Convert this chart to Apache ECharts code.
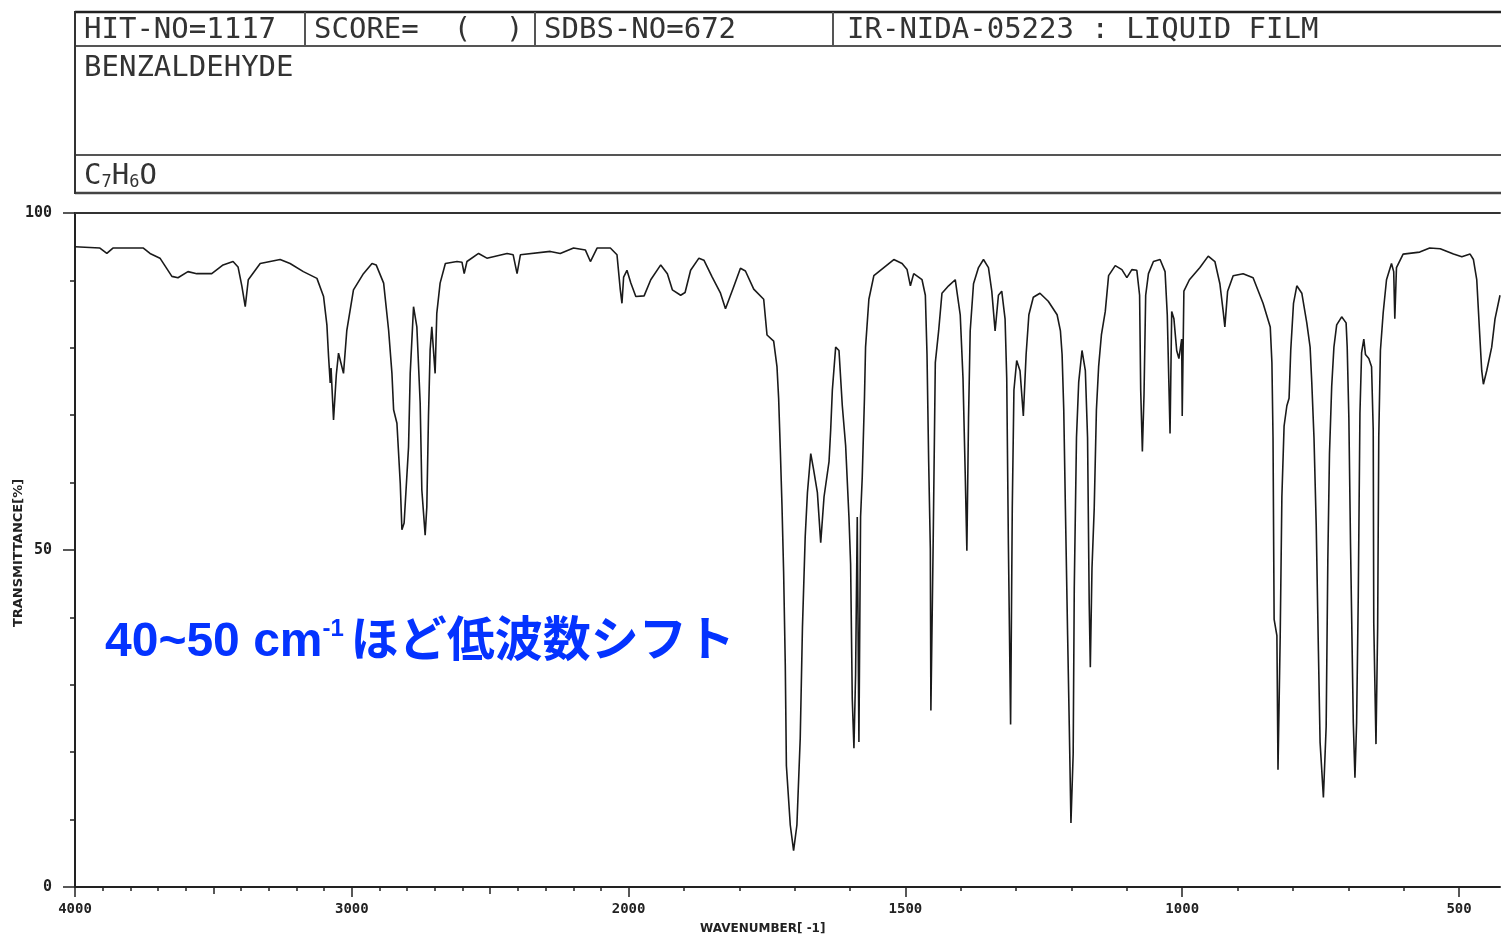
<!DOCTYPE html>
<html><head><meta charset="utf-8">
<script src="https://cdn.jsdelivr.net/npm/echarts@6/dist/echarts.min.js"></script>
<style>html,body{margin:0;padding:0;background:#fff}#c{width:1501px;height:937px}</style>
</head><body><div id="c"></div>
<script>
// ---- data ----
const wavenumber = [
4000,3910,3885,3863,3753,3729,3693,3650,3628,3592,3560,3506,3465,3429,3411,3397,3385,3374,3331,3295,
3259,3223,3175,3126,3102,3090,3084,3078,3075,3066,3056,3048,3030,3018,2994,2958,2927,2912,2885,2867,
2855,2849,2837,2825,2819,2811,2795,2789,2777,2765,2753,2747,2735,2729,2723,2717,2711,2699,2693,2681,
2662,2620,2602,2594,2584,2542,2512,2439,2417,2403,2391,2283,2247,2199,2156,2138,2114,2066,2042,2030,
2024,2018,2006,
1996,1987,1972,1960,1942,1930,1921,1906,1898,1888,1873,1864,1849,1834,1825,1810,1798,1789,1774,1756,
1750,1738,1732,1729,1726,1723,1720,1717,1715,1708,1702,1696,1690,1686,1681,1677,1671,1666,1659,1653,
1647,1638,1635,1632,1626,1620,1614,1608,1602,1599,1596,1593,1590,1587,1584,1581,1578,1574,1572,1566,
1557,1539,1521,1506,1497,1491,1485,1470,1464,1461,1458,1455,1454,1450,1446,1440,1434,1422,1410,1401,
1396,1392,1389,1386,1383,1377,1368,1359,1350,1344,1338,1332,1326,1320,1317,1314,1310,1307,1304,1299,
1293,1287,1282,1277,1269,1257,1242,1226,1220,1217,1214,1211,1207,1204,1201,1197,1195,1191,1187,1181,
1175,1171,1168,1166,1163,1159,1155,1151,1146,1139,1133,1121,1109,1100,1091,1082,1077,1075,1072,1069,
1066,1061,1052,1040,1031,1027,1024,1022,1019,1015,1010,1006,1001,1000,997,987,968,953,941,932,
926,923,918,908,890,872,854,841,838,836,834,829,827,823,820,816,811,807,804,799,
793,784,775,769,766,762,758,754,751,745,740,737,734,730,726,721,712,704,702,699,
696,691,688,685,682,679,676,672,669,663,658,655,654,650,647,645,642,637,631,622,
618,616,613,601,571,553,534,510,495,480,474,468,463,459,456,450,441,435,426
];
const transmittance = [
95.0,94.8,94.0,94.8,94.8,94.0,93.3,90.6,90.4,91.3,91.0,91.0,92.3,92.8,92.0,89.1,86.1,90.1,92.5,92.8,
93.1,92.5,91.3,90.3,87.6,83.4,78.7,74.8,77.0,69.3,76.0,79.2,76.2,82.6,88.6,91.0,92.5,92.3,89.6,82.6,
76.2,70.8,68.8,59.9,53.0,54.0,65.3,76.2,86.1,83.1,71.8,58.9,52.2,56.4,69.8,79.7,83.1,76.2,85.1,89.6,
92.5,92.8,92.7,91.0,92.8,94.0,93.3,94.0,93.8,91.0,93.8,94.3,94.0,94.8,94.5,92.8,94.8,94.8,93.8,88.6,
86.6,90.5,91.5,
89.6,87.6,87.7,90.1,92.3,91.0,88.6,87.8,88.2,91.5,93.3,93.0,90.5,88.1,85.8,89.1,91.8,91.4,88.7,87.2,
81.9,81.0,77.2,72.5,64.9,56.7,46.7,32.9,18.0,9.2,5.4,9.2,22.1,38.5,52.0,58.5,64.3,62.0,58.5,51.1,
57.9,63.1,67.8,73.7,80.1,79.6,71.4,65.5,54.9,47.9,27.9,20.6,31.5,54.9,21.5,54.9,60.8,72.5,80.1,87.2,
90.7,91.9,93.1,92.5,91.6,89.2,91.0,90.1,87.8,79.0,63.1,50.2,26.2,50.3,77.8,82.5,88.1,89.2,90.1,84.9,
75.5,61.4,49.9,69.6,82.5,89.5,91.9,93.1,91.9,88.4,82.5,87.8,88.4,84.3,75.5,50.8,24.1,56.1,73.7,78.1,
76.6,69.9,79.0,84.9,87.5,88.1,86.9,84.9,82.5,79.0,70.8,56.1,37.3,23.8,9.5,19.7,44.4,66.7,74.9,79.6,
76.6,66.7,42.0,32.6,47.3,56.1,70.8,77.2,81.9,85.4,90.7,92.2,91.6,90.4,91.6,91.5,87.8,73.7,64.6,73.1,
87.8,91.0,92.8,93.1,91.3,84.9,74.3,67.3,85.4,84.3,79.6,78.4,81.3,69.9,88.4,90.1,91.9,93.6,92.8,89.5,
85.4,83.1,88.4,90.7,91.0,90.4,86.6,83.1,77.8,66.7,39.7,37.3,17.4,37.3,57.9,68.4,71.4,72.5,79.6,86.6,
89.2,88.1,83.7,80.1,74.9,66.7,53.8,35.0,21.5,13.3,23.8,48.5,64.3,74.3,80.1,83.4,84.6,83.7,80.1,69.6,
50.8,24.4,16.2,24.4,43.2,70.2,79.3,81.3,79.0,78.4,77.2,67.8,39.1,21.2,38.5,66.7,79.6,85.2,90.1,92.5,
91.3,84.3,91.9,93.9,94.2,94.8,94.7,93.9,93.5,93.9,93.1,90.1,82.5,76.6,74.6,76.6,80.1,84.3,87.8
];
const xMajorTicks = [4000, 3000, 2000, 1500, 1000, 500];
const xMediumTicks = [3500, 2500];
const yMajorTicks = [0, 50, 100];
const xRightEnd = 426;

const headerTexts = {
  hit: 'HIT-NO=1117',
  score: 'SCORE=  (  )',
  sdbs: 'SDBS-NO=672',
  ir: 'IR-NIDA-05223 : LIQUID FILM',
  name: 'BENZALDEHYDE'
};

// ---- axis scale: half scale above 2000 cm-1 ----
function toU(w) { return w >= 2000 ? (4000 - w) / 2 : 3000 - w; }
function fromU(u) { return u <= 1000 ? Math.round(4000 - 2 * u) : Math.round(3000 - u); }

const minorTicks = [];
for (let w = 3900; w >= 500; w -= 100) {
  if (xMajorTicks.indexOf(w) < 0 && xMediumTicks.indexOf(w) < 0) minorTicks.push(w);
}
const uMax = toU(xRightEnd);
const seriesData = wavenumber.map((w, i) => [toU(w), transmittance[i]]);

const dark = '#222';
const tickFont = { color: dark, fontSize: 14, fontWeight: 'bold', fontFamily: 'DejaVu Sans Mono' };
const mono = '"DejaVu Sans Mono", monospace';

const chart = echarts.init(document.getElementById('c'));
chart.setOption({
  animation: false,
  backgroundColor: '#fff',
  grid: { left: 75, right: 1, top: 213, bottom: 50, containLabel: false, outerBoundsMode: 'none' },
  xAxis: [
    { type: 'value', min: 0, max: uMax, position: 'bottom',
      axisLine: { show: true, lineStyle: { color: dark, width: 2 } },
      axisTick: { show: true, customValues: xMajorTicks.map(toU), length: 10, lineStyle: { color: dark, width: 1.5 } },
      axisLabel: Object.assign({ customValues: xMajorTicks.map(toU), formatter: v => String(fromU(v)), margin: 15 }, tickFont),
      splitLine: { show: false } },
    { type: 'value', min: 0, max: uMax, position: 'bottom',
      axisLine: { show: false },
      axisTick: { show: true, customValues: minorTicks.map(toU), length: 4, lineStyle: { color: dark, width: 1.5 } },
      axisLabel: { show: false }, splitLine: { show: false } },
    { type: 'value', min: 0, max: uMax, position: 'bottom',
      axisLine: { show: false },
      axisTick: { show: true, customValues: xMediumTicks.map(toU), length: 7, lineStyle: { color: dark, width: 1.5 } },
      axisLabel: { show: false }, splitLine: { show: false } },
    { type: 'value', min: 0, max: uMax, position: 'top',
      axisLine: { show: true, lineStyle: { color: '#333', width: 2 } },
      axisTick: { show: false }, axisLabel: { show: false }, splitLine: { show: false } }
  ],
  yAxis: [
    { type: 'value', min: 0, max: 100, position: 'left',
      axisLine: { show: true, lineStyle: { color: dark, width: 2 } },
      axisTick: { show: true, customValues: yMajorTicks, length: 12, lineStyle: { color: dark, width: 1.5 } },
      axisLabel: { customValues: yMajorTicks, margin: 23, fontSize: 15, color: dark, fontWeight: 'bold', fontFamily: 'DejaVu Sans Mono' },
      splitLine: { show: false } },
    { type: 'value', min: 0, max: 100, interval: 10, position: 'left',
      axisLine: { show: false },
      axisTick: { show: true, length: 5, lineStyle: { color: dark, width: 1.5 } },
      axisLabel: { show: false }, splitLine: { show: false } }
  ],
  series: [{
    type: 'line', xAxisIndex: 0, yAxisIndex: 0, data: seriesData,
    showSymbol: false, symbol: 'none', smooth: false,
    lineStyle: { color: '#1a1a1a', width: 1.6 }
  }],
  graphic: [
    { type: 'line', shape: { x1: 75, y1: 12, x2: 1501, y2: 12 }, style: { stroke: '#222', lineWidth: 2.5 } },
    { type: 'line', shape: { x1: 75, y1: 46, x2: 1501, y2: 46 }, style: { stroke: '#555', lineWidth: 2 } },
    { type: 'line', shape: { x1: 75, y1: 155, x2: 1501, y2: 155 }, style: { stroke: '#555', lineWidth: 2 } },
    { type: 'line', shape: { x1: 75, y1: 193, x2: 1501, y2: 193 }, style: { stroke: '#444', lineWidth: 2.5 } },
    { type: 'line', shape: { x1: 75, y1: 11, x2: 75, y2: 194 }, style: { stroke: '#333', lineWidth: 2 } },
    { type: 'line', shape: { x1: 305, y1: 12, x2: 305, y2: 46 }, style: { stroke: '#555', lineWidth: 2 } },
    { type: 'line', shape: { x1: 535, y1: 12, x2: 535, y2: 46 }, style: { stroke: '#555', lineWidth: 2 } },
    { type: 'line', shape: { x1: 833, y1: 12, x2: 833, y2: 46 }, style: { stroke: '#555', lineWidth: 2 } },
    { type: 'text', x: 84, y: 30, style: { text: headerTexts.hit, font: '29px ' + mono, fill: '#333', verticalAlign: 'middle' } },
    { type: 'text', x: 314, y: 30, style: { text: headerTexts.score, font: '29px ' + mono, fill: '#333', verticalAlign: 'middle' } },
    { type: 'text', x: 544, y: 30, style: { text: headerTexts.sdbs, font: '29px ' + mono, fill: '#333', verticalAlign: 'middle' } },
    { type: 'text', x: 847, y: 30, style: { text: headerTexts.ir, font: '29px ' + mono, fill: '#333', verticalAlign: 'middle' } },
    { type: 'text', x: 84, y: 68, style: { text: headerTexts.name, font: '29px ' + mono, fill: '#333', verticalAlign: 'middle' } },
    { type: 'text', x: 84, y: 176, style: {
        text: 'C{s|7}H{s|6}O', font: '29px ' + mono, fill: '#333', verticalAlign: 'middle',
        rich: { s: { fontSize: 17, fontFamily: 'DejaVu Sans Mono', fill: '#333', padding: [14, 0, 0, 0] } } } },
    { type: 'text', x: 105, y: 643, style: {
        text: '{a|40~50 cm}{s|-1}{a|ほど低波数シフト}', fill: '#0433ff', verticalAlign: 'middle',
        rich: {
          a: { fontSize: 48, fontWeight: 'bold', fontFamily: '"Liberation Sans", "Noto Sans CJK JP", sans-serif', fill: '#0433ff', lineHeight: 52 },
          s: { fontSize: 24, fontWeight: 'bold', fontFamily: '"Liberation Sans", sans-serif', fill: '#0433ff', verticalAlign: 'top', lineHeight: 24, padding: [0, 7, 0, 0] }
        } } },
    { type: 'text', x: 19, y: 553, rotation: Math.PI / 2, style: { text: 'TRANSMITTANCE[%]', font: 'bold 13px "DejaVu Sans"', fill: dark, align: 'center', verticalAlign: 'middle' } },
    { type: 'text', x: 700, y: 929, style: { text: 'WAVENUMBER[ -1]', font: 'bold 12px "DejaVu Sans"', fill: dark, verticalAlign: 'middle' } }
  ]
});
</script></body></html>
